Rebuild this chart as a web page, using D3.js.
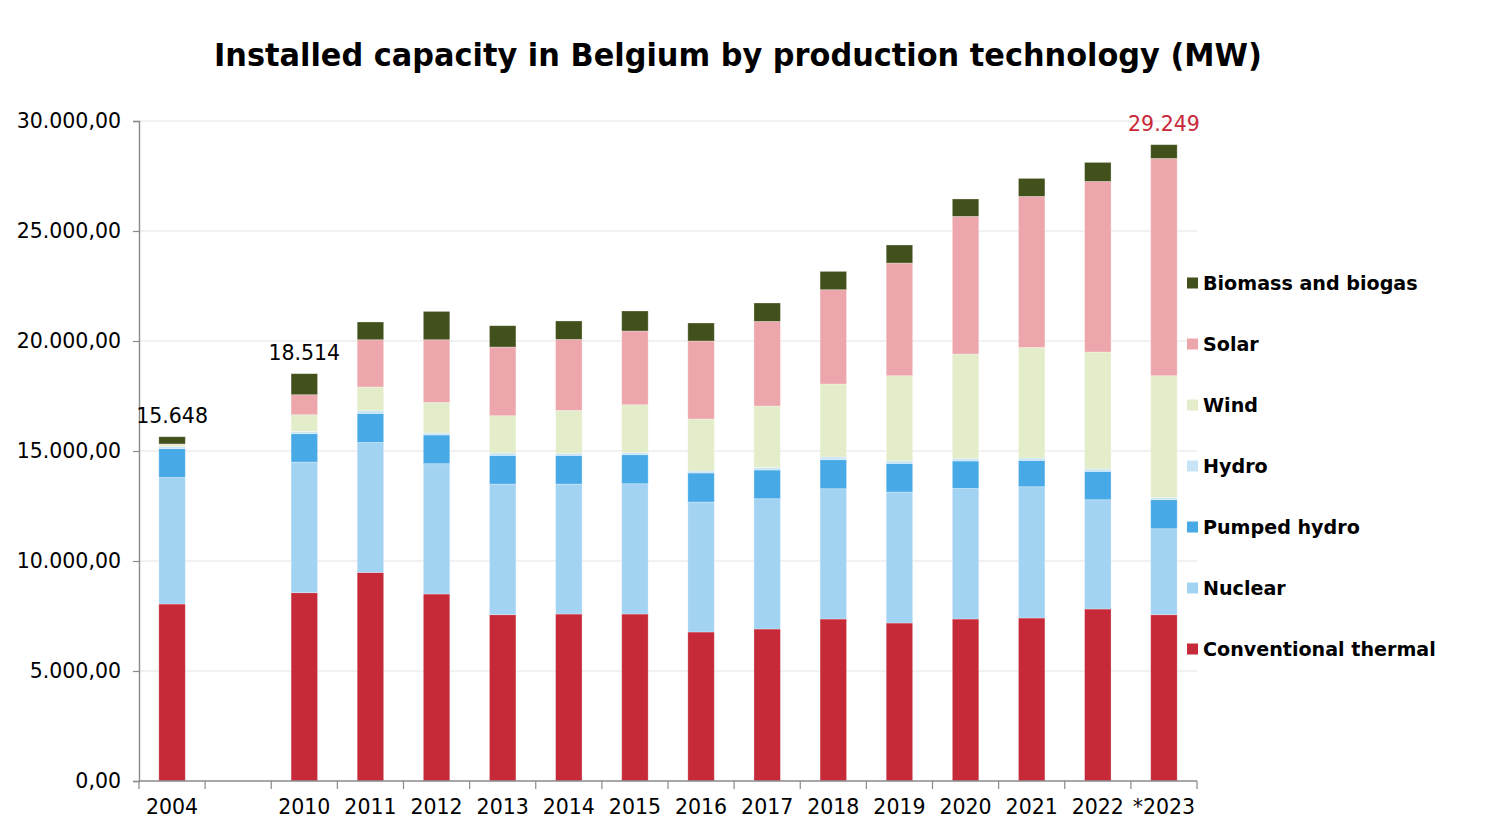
<!DOCTYPE html>
<html>
<head>
<meta charset="utf-8">
<script src="https://cdn.jsdelivr.net/npm/d3@7"></script>
<style>
  html, body { margin: 0; background: #fff; }
  svg { display: block; font-family: "DejaVu Sans", sans-serif; }
</style>
</head>
<body>
<div id="chart"></div>
<script>
// Installed capacity in Belgium (MW)
const YEARS = ["2004", "", "2010", "2011", "2012", "2013", "2014", "2015",
  "2016", "2017", "2018", "2019", "2020", "2021", "2022", "*2023"];

const THERMAL = [8045, null, 8559, 9482, 8500, 7559, 7590, 7590, 6773, 6909, 7364, 7182, 7364, 7409, 7818, 7559];
const NUCLEAR = [5755, null, 5941, 5909, 5923, 5941, 5910, 5924, 5909, 5923, 5922, 5954, 5936, 5968, 4968, 3909];
const PUMPED  = [1305, null, 1286, 1318, 1304, 1300, 1300, 1318, 1318, 1304, 1319, 1300, 1245, 1196, 1287, 1318];
const HYDRO   = [100, null, 105, 123, 91, 109, 95, 91, 91, 119, 122, 109, 105, 109, 109, 105];
const WIND    = [95, null, 759, 1077, 1391, 1696, 1950, 2182, 2364, 2790, 3318, 3878, 4759, 5027, 5318, 5532];
const SOLAR   = [20, null, 909, 2150, 2850, 3122, 3228, 3350, 3545, 3846, 4287, 5122, 6255, 6864, 7755, 9877];
const BIOMASS = [328, null, 955, 805, 1286, 968, 836, 909, 818, 836, 832, 819, 791, 818, 863, 623];

const TOTAL_LABELS = ["15.648", null, "18.514", null, null, null, null, null,
  null, null, null, null, null, null, null, "29.249"];

const SERIES = [
  { key: "thermal", name: "Conventional thermal", values: THERMAL, color: "#c62a39" },
  { key: "nuclear", name: "Nuclear", values: NUCLEAR, color: "#a3d3f3" },
  { key: "pumped", name: "Pumped hydro", values: PUMPED, color: "#47a9e6" },
  { key: "hydro", name: "Hydro", values: HYDRO, color: "#c8e5f8" },
  { key: "wind", name: "Wind", values: WIND, color: "#e3edca" },
  { key: "solar", name: "Solar", values: SOLAR, color: "#eda7ac" },
  { key: "biomass", name: "Biomass and biogas", values: BIOMASS, color: "#42501c" },
];

const Y_TICKS = [0, 5000, 10000, 15000, 20000, 25000, 30000];

const width = 1500, height = 832;
const margin = { top: 121, right: 303, bottom: 51, left: 139 };
const iw = width - margin.left - margin.right;
const ih = height - margin.top - margin.bottom;

const svg = d3.select("#chart").append("svg")
  .attr("width", width).attr("height", height)
  .attr("viewBox", `0 0 ${width} ${height}`);

// Tittel – litt smalere glyffer enn DejaVu, så bredden låses
svg.append("text")
  .attr("x", (214 + 1262) / 2).attr("y", 66)
  .attr("text-anchor", "middle")
  .attr("font-weight", "bold")
  .attr("font-size", 32.5)
  .attr("textLength", 1048)
  .attr("lengthAdjust", "spacingAndGlyphs")
  .attr("fill", "#000")
  .text("Installed capacity in Belgium by production technology (MW)");

const g = svg.append("g").attr("transform", `translate(${margin.left},${margin.top})`);

// Skalaer
const x = d3.scaleBand()
  .domain(YEARS.map((d, i) => i))
  .range([0, iw])
  .paddingInner(0.6)
  .paddingOuter(0.3);

const y = d3.scaleLinear().domain([0, 30000]).range([ih, 0]);

const nl = d3.formatLocale({ decimal: ",", thousands: ".", grouping: [3], currency: ["", ""] });
const fmt = nl.format(",.2f");

// Rutenett
g.append("g")
  .selectAll("line")
  .data(Y_TICKS.filter(v => v > 0))
  .join("line")
  .attr("x1", 0).attr("x2", iw)
  .attr("y1", d => y(d)).attr("y2", d => y(d))
  .attr("stroke", "#e4e4e4")
  .attr("stroke-width", 1.2);

// Stablede søyler
const table = YEARS.map((yr, i) => {
  const row = { i };
  SERIES.forEach(s => { row[s.key] = s.values[i] || 0; });
  return row;
});
const stacked = d3.stack().keys(SERIES.map(s => s.key))(table);

g.append("g")
  .selectAll("g")
  .data(stacked)
  .join("g")
  .attr("fill", (d, k) => SERIES[k].color)
  .selectAll("rect")
  .data(d => d.filter(p => p[1] > p[0]))
  .join("rect")
  .attr("x", p => x(p.data.i))
  .attr("width", x.bandwidth())
  .attr("y", p => y(p[1]))
  .attr("height", p => y(p[0]) - y(p[1]))
  .attr("stroke", "#fff")
  .attr("stroke-opacity", 0.35)
  .attr("stroke-width", 0.8);

// Y-akse
const yAxis = g.append("g")
  .call(d3.axisLeft(y).tickValues(Y_TICKS).tickSize(6).tickPadding(12).tickFormat(fmt));
yAxis.select(".domain").attr("stroke", "#8a8a8a").attr("stroke-width", 1.4);
yAxis.selectAll(".tick line").attr("stroke", "#8a8a8a").attr("stroke-width", 1.2);
yAxis.selectAll(".tick text")
  .attr("font-size", 20.5)
  .attr("font-family", "DejaVu Sans, sans-serif")
  .attr("fill", "#000");

// X-akse: streker mellom kategoriene, etiketter midt i
const step = x.step();
const edges = d3.range(YEARS.length + 1).map(k => k * step);
const xg = g.append("g").attr("transform", `translate(0,${ih})`);
xg.append("line")
  .attr("x1", 0).attr("x2", iw)
  .attr("stroke", "#8a8a8a").attr("stroke-width", 1.4);
xg.selectAll("line.edge")
  .data(edges)
  .join("line")
  .attr("class", "edge")
  .attr("x1", d => d).attr("x2", d => d)
  .attr("y1", 0).attr("y2", 8)
  .attr("stroke", "#8a8a8a").attr("stroke-width", 1.2);
xg.selectAll("text")
  .data(YEARS.map((d, i) => ({ d, i })).filter(o => o.d))
  .join("text")
  .attr("x", o => x(o.i) + x.bandwidth() / 2)
  .attr("y", 33)
  .attr("text-anchor", "middle")
  .attr("font-size", 20.5)
  .attr("fill", "#000")
  .text(o => o.d);

// Totalsummer over utvalgte søyler
const tops = stacked[stacked.length - 1];
g.append("g")
  .selectAll("text")
  .data(TOTAL_LABELS.map((t, i) => ({ t, i })).filter(o => o.t))
  .join("text")
  .attr("x", o => x(o.i) + x.bandwidth() / 2)
  .attr("y", o => y(tops[o.i][1]) - 14)
  .attr("text-anchor", "middle")
  .attr("font-size", 20.5)
  .attr("fill", o => o.i === YEARS.length - 1 ? "#c8283a" : "#000")
  .text(o => o.t);

// Tegnforklaring
const legend = svg.append("g").attr("transform", "translate(1187,283)");
const items = legend.selectAll("g")
  .data(SERIES.slice().reverse())
  .join("g")
  .attr("transform", (d, k) => `translate(0,${k * 61})`);
items.append("rect")
  .attr("x", 0).attr("y", -5.5)
  .attr("width", 11).attr("height", 11)
  .attr("fill", d => d.color);
const legendText = items.append("text")
  .attr("x", 16).attr("y", 6.5)
  .attr("font-weight", "bold")
  .attr("font-size", 20)
  .attr("fill", "#000")
  .text(d => d.name);
// skaler skriftstørrelsen slik at den lengste etiketten får samme bredde som i forelegget
const longest = legendText.filter(d => d.key === "thermal");
const ratio = 233 / longest.node().getComputedTextLength();
legendText.attr("font-size", 20 * ratio);
</script>
</body>
</html>
